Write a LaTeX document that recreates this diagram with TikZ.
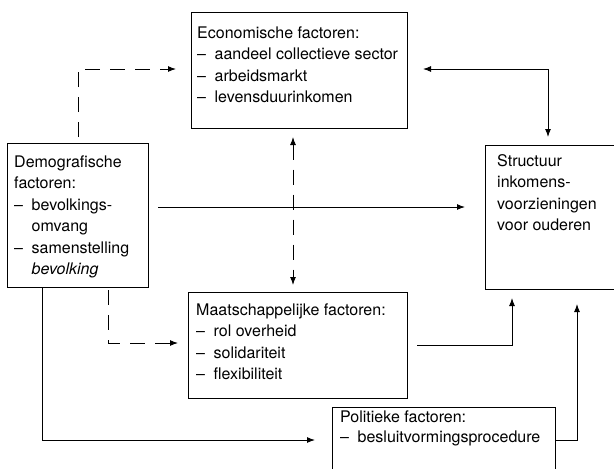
\documentclass[tikz,border=0pt]{standalone}
\usepackage{fontspec}
\setmainfont{TeX Gyre Heros}
\usetikzlibrary{arrows.meta}
\newcommand\itm{\makebox[17.5pt][l]{--}}
\newcommand\ind{\hspace*{17.5pt}}
\tikzset{
  box/.style={draw, line width=1pt, rectangle, outer sep=0pt, inner sep=0pt, anchor=north west},
  txt/.style={anchor=base west, inner sep=0pt, font=\fontsize{16}{21.5}\selectfont},
  arr/.style={line width=1pt, -{Latex[length=8pt,width=6pt]}},
  dsh/.style={arr, dash pattern=on 15pt off 10pt},
}
\begin{document}
\begin{tikzpicture}[x=1pt,y=-1pt]
\useasboundingbox (0,0) rectangle (614,469);
\clip (0,0) rectangle (614,469);
% boxes
\node[box, minimum width=216pt, minimum height=116pt] (econ) at (191,12) {};
\node[box, minimum width=141pt, minimum height=144pt] (demo) at (7,143) {};
\node[box, minimum width=140pt, minimum height=144pt] (struct) at (485,145) {};
\node[box, minimum width=219pt, minimum height=106pt] (maat) at (188,292) {};
\node[box, minimum width=223pt, minimum height=70pt] (pol) at (332,407) {};
% texts
\node[txt] (econtxt) at (197,38) {\begin{tabular}[t]{@{}l@{}}Economische factoren:\\ \itm aandeel collectieve sector\\ \itm arbeidsmarkt\\ \itm levensduurinkomen\end{tabular}};
\node[txt] (demotxt) at (14,167) {\begin{tabular}[t]{@{}l@{}}Demografische\\ factoren:\\ \itm bevolkings-\\ \ind omvang\\ \itm samenstelling\\ \ind\textit{bevolking}\end{tabular}};
\node[txt] (structtxt) at (497,166) {\begin{tabular}[t]{@{}l@{}}Structuur\\ inkomens-\\ voorzieningen\\ voor ouderen\end{tabular}};
\node[txt] (maattxt) at (196,315) {\begin{tabular}[t]{@{}l@{}}Maatschappelijke factoren:\\ \itm rol overheid\\ \itm solidariteit\\ \itm flexibiliteit\end{tabular}};
\node[txt, font=\fontsize{16}{20.5}\selectfont] (poltxt) at (340,422) {\begin{tabular}[t]{@{}l@{}}Politieke factoren:\\ \itm besluitvormingsprocedure\end{tabular}};
% connectors
\draw[dsh, shorten <=6pt, shorten >=15pt] (demo.north -| 78,0) |- (econ.west |- 0,69);
\draw[dsh, {Latex[length=8pt,width=6pt]}-{Latex[length=8pt,width=6pt]}, shorten <=9pt, shorten >=7pt] (econ.south -| 293,0) -- (maat.north -| 293,0);
\draw[arr, shorten <=10pt, shorten >=20pt] (demo.east |- 0,207) -- (struct.west |- 0,207);
\draw[arr, {Latex[length=8pt,width=6pt]}-{Latex[length=8pt,width=6pt]}, shorten <=16pt, shorten >=8pt] (econ.east |- 0,69) -| (struct.north -| 548,0);
\draw[dsh, shorten <=3pt, shorten >=10pt] (demo.south -| 108,0) |- (maat.west |- 0,343);
\draw[arr, shorten <=10pt, shorten >=9pt] (maat.east |- 0,345) -| (struct.south -| 512,0);
\draw[arr, shorten >=17pt] (demo.south -| 42,0) |- (pol.west |- 0,440);
\draw[arr, shorten <=1pt, shorten >=15pt] (pol.east |- 0,440) -| (struct.south -| 577,0);
\end{tikzpicture}
\end{document}
